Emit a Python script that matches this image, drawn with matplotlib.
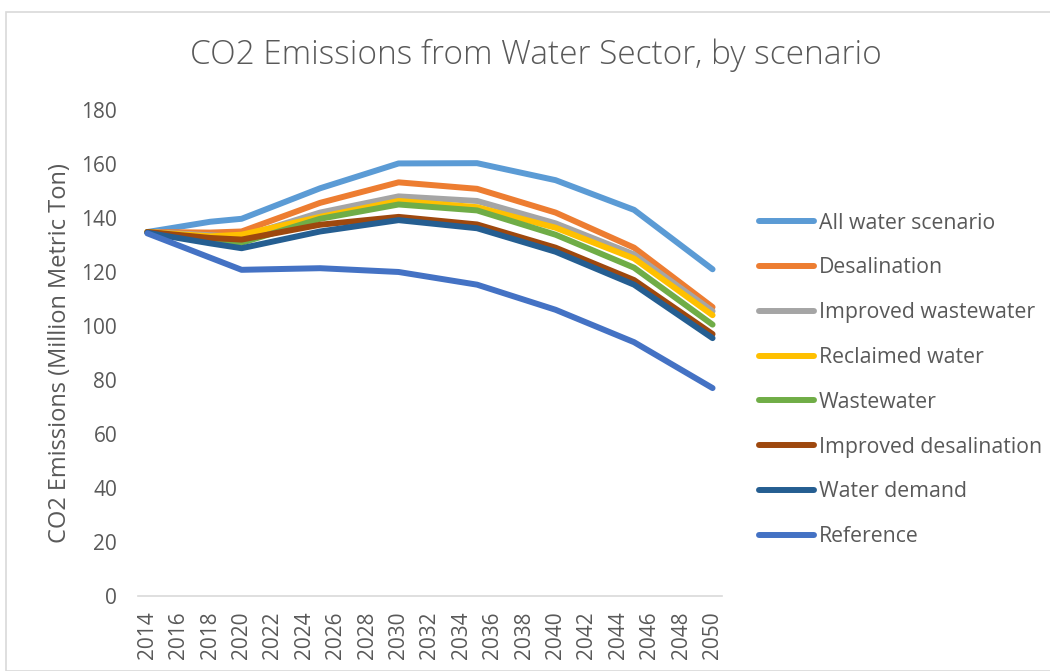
import matplotlib
matplotlib.use("Agg")
import matplotlib.pyplot as plt
from matplotlib.patches import Rectangle

plt.rcParams['font.family'] = ['Open Sans', 'DejaVu Sans']

# anchor years
years = [2014, 2018, 2020, 2025, 2030, 2035, 2040, 2045, 2050]

all_water = [134.8, 138.6, 139.7, 151.0, 160.2, 160.3, 154.0, 143.0, 121.0]
desalination = [134.8, 134.6, 135.0, 145.6, 153.2, 150.8, 142.0, 129.0, 107.0]
improved_ww = [134.8, 133.6, 133.0, 142.0, 148.0, 146.3, 138.0, 126.5, 105.5]
reclaimed = [134.8, 133.2, 133.8, 140.4, 146.3, 144.0, 136.4, 125.0, 104.0]
wastewater = [134.8, 131.8, 130.8, 139.7, 145.0, 142.8, 133.8, 121.6, 100.5]
improved_desal = [134.8, 132.6, 132.0, 137.5, 140.4, 137.6, 129.0, 117.0, 97.0]
water_demand = [134.5, 130.6, 128.8, 135.0, 139.2, 136.2, 127.5, 115.3, 95.5]
reference = [134.3, 125.3, 120.8, 121.4, 120.0, 115.3, 106.0, 94.0, 77.0]

series = [
    ("All water scenario", all_water, "#5B9BD5"),
    ("Desalination", desalination, "#ED7D31"),
    ("Improved wastewater", improved_ww, "#A5A5A5"),
    ("Reclaimed water", reclaimed, "#FFC000"),
    ("Wastewater", wastewater, "#70AD47"),
    ("Improved desalination", improved_desal, "#9E480E"),
    ("Water demand", water_demand, "#255E91"),
    ("Reference", reference, "#4472C4"),
]

tick_years = list(range(2014, 2051, 2))
text_col = "#595959"

fig = plt.figure(figsize=(10.5, 6.71), dpi=100)
ax = fig.add_axes([0.1314, 0.1118, 0.5562, 0.7243])

# chart border
fig.patches.append(Rectangle((6 / 1050, 0), 1.0, 1 - 12 / 671, transform=fig.transFigure,
                             fill=False, edgecolor="#D9D9D9", linewidth=1.2))

for name, vals, col in series:
    ax.plot(years, vals, color=col, linewidth=4.3, label=name, solid_capstyle="round",
            solid_joinstyle="round")

ax.set_xlim(2013.4, 2050.6)
ax.set_ylim(0, 180)
ax.set_yticks(range(0, 181, 20))
ax.set_xticks(tick_years)
ax.set_xticklabels([str(y) for y in tick_years], rotation=90)
ax.tick_params(axis="both", length=0, labelsize=15, colors=text_col)
ax.tick_params(axis="y", pad=15)
ax.tick_params(axis="x", pad=11)

for s in ["top", "right", "left"]:
    ax.spines[s].set_visible(False)
ax.spines["bottom"].set_color("#D9D9D9")
ax.spines["bottom"].set_linewidth(1.2)

ax.set_ylabel("CO2 Emissions (Million Metric Ton)", fontsize=17, color=text_col, labelpad=7)
fig.text(0.5105, 0.918, "CO2 Emissions from Water Sector, by scenario", fontsize=24,
         color=text_col, ha="center", va="center", fontweight="light")

leg = ax.legend(loc="upper left", bbox_to_anchor=(1.03, 0.828), frameon=False,
                fontsize=15.3, labelcolor=text_col, handlelength=2.6, handletextpad=0.23,
                labelspacing=1.12)
for line in leg.get_lines():
    line.set_linewidth(4.3)

fig.savefig("out.png", dpi=100)
